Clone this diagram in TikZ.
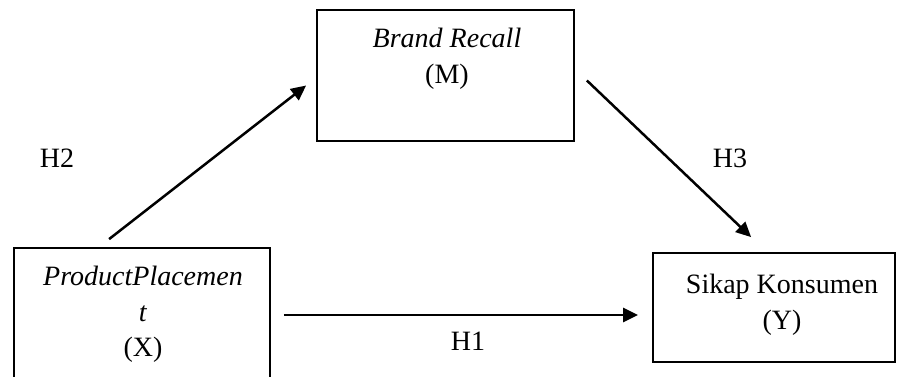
\documentclass[tikz,border=0pt]{standalone}
\usepackage{fontspec}
\setmainfont{Liberation Serif}
\usetikzlibrary{arrows.meta,positioning,calc}
\begin{document}
\begin{tikzpicture}[x=1pt,y=-1pt,
  box/.style={draw=black,line width=1.8pt,inner sep=0pt},
  txt/.style={font=\fontsize{28}{35.5}\selectfont,align=center,inner sep=0pt,anchor=north},
  hlabel/.style={font=\fontsize{28}{34}\selectfont,inner sep=0pt,anchor=base},
  conn/.style={line width=2.5pt,-{Triangle[length=15pt,width=14pt]}}]
\useasboundingbox (0,0) rectangle (897,376);
% boxes
\node[box,minimum width=257pt,minimum height=131pt] (M) at (445.5,75.5) {};
\node[box,minimum width=256pt,minimum height=132pt] (X) at (142,314) {};
\node[box,minimum width=242pt,minimum height=109pt] (Y) at (774,307.5) {};
% texts
\node[txt] (Mt) at (447,28) {\textit{Brand Recall}\\(M)};
\node[txt] (Xt) at (143,266) {\textit{ProductPlacemen}\\\textit{t}\\(X)};
\node[txt] (Yt) at (782,274) {Sikap Konsumen\\(Y)};
% connector end points
\coordinate (xm1) at ($(X.north west)+(96,-8)$);
\coordinate (xm2) at ($(M.west)+(-10,10)$);
\coordinate (my1) at ($(M.east)+(12,5)$);
\coordinate (my2) at ($(Y.north west)+(99,-15)$);
\coordinate (xy1) at ($(X.east |- 0,315)+(13,0)$);
\coordinate (xy2) at ($(Y.west |- 0,315)+(-14,0)$);
\draw[conn] (xm1) -- (xm2);
\draw[conn] (my1) -- (my2);
\draw[conn] (xy1) -- (xy2);
% labels
\node[hlabel] (H2) at (57,167) {H2};
\node[hlabel] (H3) at (730,167) {H3};
\node[hlabel] (H1) at (468,350) {H1};
\end{tikzpicture}
\end{document}
